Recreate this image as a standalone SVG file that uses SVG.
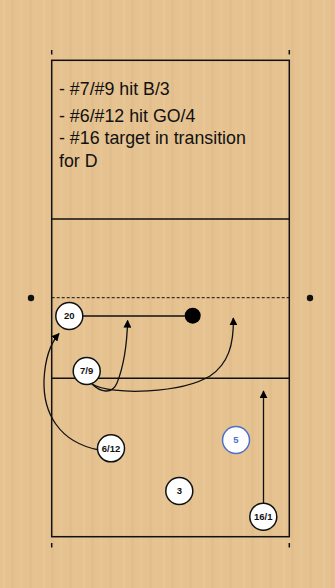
<svg xmlns="http://www.w3.org/2000/svg" width="335" height="588" viewBox="0 0 335 588">
<defs>
<marker id="ah" viewBox="0 0 10 10" refX="9" refY="5" markerWidth="8" markerHeight="8" markerUnits="userSpaceOnUse" orient="auto">
<path d="M0,0 L10,5 L0,10 z" fill="#000"/>
</marker>
<pattern id="wood" width="40" height="588" patternUnits="userSpaceOnUse">
<rect width="40" height="588" fill="#e5c290"/>
<rect x="3" width="2" height="588" fill="#eacb9c" opacity="0.5"/>
<rect x="11" width="3" height="588" fill="#deb986" opacity="0.4"/>
<rect x="20" width="2" height="588" fill="#ebcc9e" opacity="0.4"/>
<rect x="29" width="3" height="588" fill="#ddb884" opacity="0.3"/>
<rect x="36" width="1" height="588" fill="#e9c998" opacity="0.5"/>
</pattern>
<style>
.ln{stroke:#111;stroke-width:1.5;fill:none}
.pl{fill:#fff;stroke:#111;stroke-width:1.5}
.pt{font-family:"Liberation Sans",Arial,sans-serif;font-weight:bold;font-size:9.5px;text-anchor:middle;fill:#111}
.cn{stroke:#111;stroke-width:1.3;fill:none;marker-end:url(#ah)}
.tx{font-family:"Liberation Sans",Arial,sans-serif;font-size:17.8px;fill:#111}
</style>
</defs>
<rect width="335" height="588" fill="url(#wood)"/>
<g id="court">
<rect x="51.7" y="60.3" width="237.6" height="476.4" class="ln"/>
<line x1="51.7" y1="219" x2="289.3" y2="219" class="ln"/>
<line x1="51.7" y1="297.7" x2="289.3" y2="297.7" stroke="#111" stroke-width="1" stroke-dasharray="3,2"/>
<line x1="51.7" y1="378.3" x2="289.3" y2="378.3" class="ln"/>
<line x1="51.7" y1="50" x2="51.7" y2="54.5" class="ln"/>
<line x1="289.3" y1="50" x2="289.3" y2="54.5" class="ln"/>
<line x1="51.7" y1="543" x2="51.7" y2="547.5" class="ln"/>
<line x1="289.3" y1="543" x2="289.3" y2="547.5" class="ln"/>
<circle cx="31" cy="298" r="3.2" fill="#111"/>
<circle cx="310" cy="298" r="3.2" fill="#111"/>
</g>
<g id="notes">
<text class="tx" x="59" y="95">- #7/#9 hit B/3</text>
<text class="tx" x="59" y="121.5">- #6/#12 hit GO/4</text>
<text class="tx" x="59" y="144">- #16 target in transition</text>
<text class="tx" x="59" y="166.5">for D</text>
</g>
<g id="connectors">
<line x1="82" y1="316" x2="186" y2="316" class="ln"/>
<path class="cn" d="M99,450 C58,442 43,412 44,380 C45,358 50,344 59,333.5"/>
<path class="cn" d="M92,384 C100,392 112,395 117,383 C123,368 127,345 127.6,320.5"/>
<path class="cn" d="M92,384 C112,396 182,393 210,376 C228,364 234,345 233.3,318"/>
<path class="cn" d="M263.5,503 L263.5,391"/>
</g>
<g id="ball"><circle cx="192.7" cy="315.7" r="8" fill="#000"/></g>
<g id="p20"><circle cx="69.3" cy="316" r="13.5" class="pl"/><text class="pt" x="69.3" y="319.4">20</text></g>
<g id="p79"><circle cx="86.7" cy="371" r="13.5" class="pl"/><text class="pt" x="86.7" y="374.4">7/9</text></g>
<g id="p612"><circle cx="111" cy="448.3" r="13.5" class="pl"/><text class="pt" x="111" y="451.7">6/12</text></g>
<g id="p5"><circle cx="236" cy="440" r="13.5" fill="#fff" stroke="#4f6fc8" stroke-width="1.5"/><text class="pt" x="236" y="443.4" style="fill:#4f6fc8">5</text></g>
<g id="p3"><circle cx="179.3" cy="491" r="13.5" class="pl"/><text class="pt" x="179.3" y="494.4">3</text></g>
<g id="p161"><circle cx="263.3" cy="516.7" r="13.5" class="pl"/><text class="pt" x="263.3" y="520.1">16/1</text></g>
</svg>
